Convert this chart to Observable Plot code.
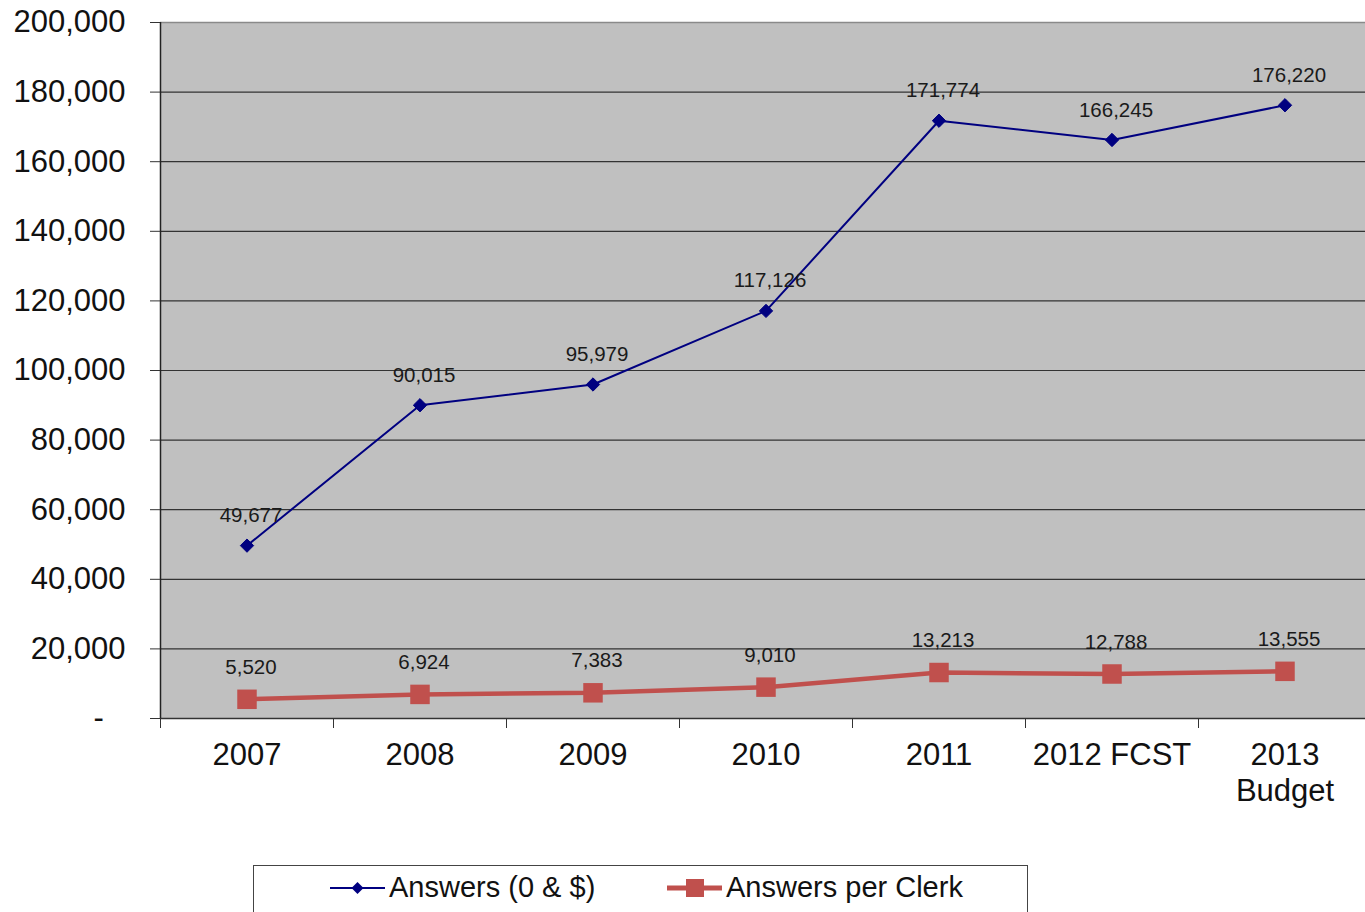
<!DOCTYPE html>
<html>
<head>
<meta charset="utf-8">
<script src="https://cdn.jsdelivr.net/npm/d3@7"></script>
<script src="https://cdn.jsdelivr.net/npm/@observablehq/plot@0.6"></script>
<style>
  html, body { margin: 0; padding: 0; background: #fff; overflow: hidden; }
  #wrap { position: relative; width: 1365px; height: 912px; overflow: hidden; font-family: "Liberation Sans", Arial, sans-serif; }
  #wrap > svg { max-width: none !important; display: block; }
  #legend { position: absolute; left: 253px; top: 865px; width: 773px; height: 60px; border: 1px solid #444; box-sizing: content-box; background: #fff; }
  .item { position: absolute; top: 5px; display: flex; align-items: center; font-size: 29px; color: #111; white-space: nowrap; }
</style>
</head>
<body>
<div id="wrap"></div>
<script>
const categories = ["2007", "2008", "2009", "2010", "2011", "2012 FCST", "2013\nBudget"];
const answers = [49677, 90015, 95979, 117126, 171774, 166245, 176220];
const perClerk = [5520, 6924, 7383, 9010, 13213, 12788, 13555];
const yTicks = [0, 20000, 40000, 60000, 80000, 100000, 120000, 140000, 160000, 180000, 200000];
const seriesNames = ["Answers (0 & $)", "Answers per Clerk"];

const idx = categories.map((_, i) => i);
const blueData = idx.map(i => ({i, v: answers[i]}));
const redData = idx.map(i => ({i, v: perClerk[i]}));
const boundaries = d3.range(categories.length + 1).map(i => i - 0.5);
const fmt = d3.format(",");
const BLUE = "#000080", RED = "#C0504D";

const chart = Plot.plot({
  width: 1371,
  height: 830,
  marginTop: 22,
  marginLeft: 160,
  marginRight: 0,
  marginBottom: 112,
  style: {fontFamily: "'Liberation Sans', Arial, sans-serif", background: "transparent", overflow: "visible", maxWidth: "none"},
  x: {type: "linear", domain: [-0.5, categories.length - 0.5]},
  y: {domain: [0, 200000]},
  marks: [
    Plot.frame({fill: "#C0C0C0", stroke: null}),
    Plot.gridY(yTicks.filter(t => t > 0 && t < 200000), {stroke: "#333", strokeOpacity: 1, strokeWidth: 1.2}),
    Plot.ruleY([200000], {stroke: "#8a8a8a", strokeWidth: 1.5}),
    Plot.ruleY([0], {stroke: "#333", strokeWidth: 1.5}),
    Plot.ruleX([-0.5], {stroke: "#222", strokeWidth: 1.5}),
    Plot.axisY({ticks: yTicks, tickSize: 10, tickPadding: 25, fontSize: 31, fill: "#111", stroke: "#333",
      tickFormat: d => d === 0 ? "-\u2002\u2009" : fmt(d), label: null}),
    Plot.axisX({ticks: boundaries, tickSize: 10, stroke: "#333", tickFormat: () => "", label: null}),
    Plot.axisX({ticks: idx, tickSize: 0, tickPadding: 21, fontSize: 31, fill: "#111", lineHeight: 1.16,
      tickFormat: i => categories[i], label: null}),
    Plot.line(blueData, {x: "i", y: "v", stroke: BLUE, strokeWidth: 2}),
    Plot.dot(blueData, {x: "i", y: "v", symbol: "diamond2", r: 6, fill: BLUE, stroke: BLUE, strokeWidth: 1}),
    Plot.line(redData, {x: "i", y: "v", stroke: RED, strokeWidth: 4.5}),
    Plot.dot(redData, {x: "i", y: "v", symbol: "square", r: 11, fill: RED, stroke: null}),
    Plot.text(blueData, {x: "i", y: "v", text: d => fmt(d.v), dx: 4, dy: -30, fontSize: 20.5, fill: "#1a1a1a"}),
    Plot.text(redData, {x: "i", y: "v", text: d => fmt(d.v), dx: 4, dy: -32, fontSize: 20.5, fill: "#1a1a1a"})
  ]
});
const wrap = document.getElementById("wrap");
wrap.appendChild(chart);

const legend = document.createElement("div");
legend.id = "legend";
legend.innerHTML = `
  <div class="item" style="left:76px">
    <svg width="58" height="24" style="margin-right:1px"><line x1="0" y1="12" x2="55" y2="12" stroke="${BLUE}" stroke-width="2"/><path d="M27.5,6 L33.5,12 L27.5,18 L21.5,12 Z" fill="${BLUE}"/></svg>
    <span>${seriesNames[0]}</span></div>
  <div class="item" style="left:413px">
    <svg width="58" height="24" style="margin-right:1px"><line x1="0" y1="12" x2="55" y2="12" stroke="${RED}" stroke-width="5"/><rect x="19" y="3" width="18" height="18" fill="${RED}"/></svg>
    <span>${seriesNames[1]}</span></div>`;
wrap.appendChild(legend);
</script>
</body>
</html>
